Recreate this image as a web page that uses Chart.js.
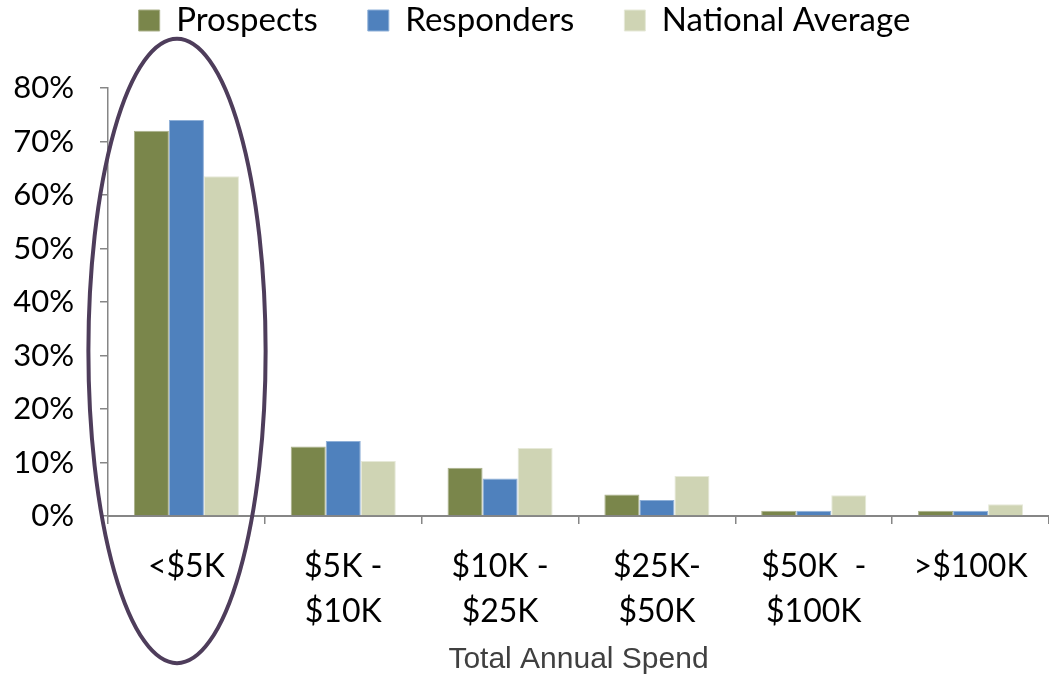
<!DOCTYPE html>
<html>
<head>
<meta charset="utf-8">
<script src="https://cdn.jsdelivr.net/npm/chart.js@4.4.1/dist/chart.umd.min.js"></script>
<style>
  html, body { margin: 0; padding: 0; background: #fff; }
  #wrap { width: 1049px; height: 678px; }
</style>
</head>
<body>
<div id="wrap"><canvas id="spendChart" width="1049" height="678"></canvas></div>
<script>
// Data
const categories = [['<$5K'], ['$5K -', '$10K'], ['$10K -', '$25K'], ['$25K-', '$50K'], ['$50K  -', '$100K'], ['>$100K']];
const prospects = [72, 13, 9, 4, 1, 1];
const responders = [74, 14, 7, 3, 1, 1];
const nationalAverage = [63.5, 10.3, 12.7, 7.5, 3.9, 2.2];
const yTicks = [0, 10, 20, 30, 40, 50, 60, 70, 80];

const axisGrey = '#868686';

// extra room under the legend
const legendGap = {
  id: 'legendGap',
  beforeInit(chart) {
    const fit = chart.legend.fit;
    chart.legend.fit = function () {
      fit.call(this);
      this.height += 41;
    };
  }
};

// ring around the first category
const ringPlugin = {
  id: 'ring',
  afterDatasetsDraw(chart) {
    const x = chart.scales.x, y = chart.scales.y;
    const cat = x.getPixelForValue(1) - x.getPixelForValue(0);
    const cx = x.getPixelForValue(0) - cat * 0.06;
    const top = y.getPixelForValue(89.2);
    const bottom = y.getPixelForValue(-27.5);
    const ctx = chart.ctx;
    ctx.save();
    ctx.beginPath();
    ctx.ellipse(cx, (top + bottom) / 2, cat * 0.565, (bottom - top) / 2, 0, 0, Math.PI * 2);
    ctx.lineWidth = 4;
    ctx.strokeStyle = '#4e3d5b';
    ctx.stroke();
    ctx.restore();
  }
};

new Chart(document.getElementById('spendChart'), {
  type: 'bar',
  data: {
    labels: categories,
    datasets: [
      { label: 'Prospects', data: prospects, backgroundColor: '#7a864b', borderColor: '#aab08a', borderWidth: 1 },
      { label: 'Responders', data: responders, backgroundColor: '#4f81bd', borderColor: '#8fb0d8', borderWidth: 1 },
      { label: 'National Average', data: nationalAverage, backgroundColor: '#cfd4b4', borderColor: '#e6e9d8', borderWidth: 1 }
    ]
  },
  options: {
    responsive: false,
    animation: false,
    layout: { padding: { top: -46, left: 0, right: 0, bottom: 0 } },
    datasets: { bar: { categoryPercentage: 0.67, barPercentage: 1.0 } },
    plugins: {
      legend: {
        position: 'top',
        labels: {
          boxWidth: 21,
          boxHeight: 21,
          padding: 50,
          color: '#000',
          font: { family: 'Lato, "Liberation Sans", sans-serif', size: 33 }
        }
      },
      tooltip: { enabled: false }
    },
    scales: {
      x: {
        grid: { offset: true, drawOnChartArea: false, tickLength: 8, color: axisGrey, lineWidth: 1.5 },
        border: { color: axisGrey, width: 2 },
        ticks: {
          color: '#000',
          padding: 20,
          maxRotation: 0,
          font: { family: 'Lato, "Liberation Sans", sans-serif', size: 32, lineHeight: 1.42 }
        },
        title: {
          display: true,
          text: 'Total Annual Spend',
          color: '#404040',
          padding: { top: 0, bottom: 0 },
          font: { family: '"Liberation Sans", Arial, sans-serif', size: 30 }
        },
        afterFit(scale) { scale.height = 162; }
      },
      y: {
        min: 0,
        max: 80,
        afterBuildTicks(scale) { scale.ticks = yTicks.map(v => ({ value: v })); },
        grid: { drawOnChartArea: false, tickLength: 8, color: axisGrey, lineWidth: 1.5 },
        border: { color: axisGrey, width: 1.5 },
        ticks: {
          color: '#000',
          padding: 26,
          font: { family: 'Lato, "Liberation Sans", sans-serif', size: 31 },
          callback: v => v + '%'
        },
        afterFit(scale) { scale.width = 108; }
      }
    }
  },
  plugins: [legendGap, ringPlugin]
});
</script>
</body>
</html>
